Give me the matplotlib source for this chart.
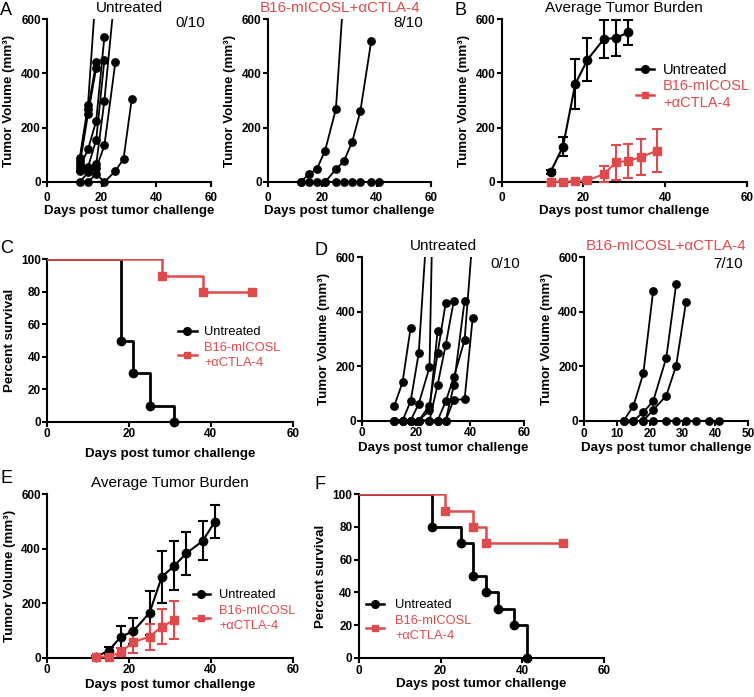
import numpy as np
import matplotlib.pyplot as plt
from matplotlib.lines import Line2D

plt.rcParams['font.family'] = ['Liberation Sans', 'DejaVu Sans']

RED = '#DF4A4C'
W, H = 754, 697

# ---- A: individual mice (first experiment)
a_untr = [
    ([12, 15, 18], [90, 285, 720]),
    ([12, 15, 18], [78, 268, 440]),
    ([12, 15, 18], [65, 250, 420]),
    ([12, 15, 18, 21], [55, 120, 225, 535]),
    ([12, 15, 18, 21], [45, 55, 155, 450]),
    ([12, 15, 18, 21, 25], [40, 48, 65, 300, 715]),
    ([12, 15, 18, 21, 25], [0, 35, 50, 135, 440]),
    ([15, 18, 21, 25, 28, 31], [0, 30, 0, 40, 85, 305]),
]
a_trt = [
    ([12, 15, 18, 21, 25, 28, 31, 34, 38, 41], [0, 0, 0, 0, 0, 0, 0, 0, 0, 0]),
    ([12, 15, 18, 21, 25, 28], [0, 28, 48, 115, 269, 720]),
    ([21, 25, 28, 31, 34, 38], [0, 47, 78, 148, 261, 519]),
]

# ---- B: average tumor burden (first experiment)
b_days_u = [12, 15, 18, 21, 25, 28, 31]
b_mean_u = [38, 130, 360, 450, 526, 530, 551]
b_sem_u = [8, 34, 93, 80, 70, 65, 45]
b_days_t = [12, 15, 18, 21, 25, 28, 31, 34, 38]
b_mean_t = [0, 1, 2, 6, 29, 72, 78, 91, 115]
b_sem_t = [1, 2, 3, 5, 29, 64, 62, 66, 80]

# ---- C: survival (first experiment)
c_t_u = [0, 18, 21, 25, 31]
c_s_u = [100, 50, 30, 10, 0]
c_t_t = [0, 28, 38, 50]
c_s_t = [100, 90, 80, 80]

# ---- D: individual mice (second experiment)
d_untr = [
    ([12, 15, 18], [55, 140, 340]),
    ([12, 15, 18, 21, 25], [0, 0, 70, 247, 860]),
    ([12, 15, 18, 21, 25, 28], [0, 0, 0, 61, 196, 1700]),
    ([12, 15, 18, 21, 25, 28, 31], [0, 0, 0, 0, 55, 247, 433]),
    ([15, 18, 21, 25, 28, 31, 34], [0, 0, 0, 0, 131, 278, 440]),
    ([18, 21, 25, 28], [0, 0, 37, 329]),
    ([21, 25, 28, 31, 34, 38, 41], [0, 0, 0, 70, 159, 296, 680]),
    ([28, 31, 34, 38], [0, 0, 129, 440]),
    ([28, 31, 34, 38, 41], [0, 0, 76, 78, 378]),
]
d_trt = [
    ([12, 15, 18, 21, 25, 28, 31, 34, 38, 41], [0, 0, 0, 0, 0, 0, 0, 0, 0, 0]),
    ([12, 15, 18, 21], [0, 55, 174, 477]),
    ([15, 18, 21, 25, 28], [0, 31, 72, 231, 501]),
    ([18, 21, 25, 28, 31], [0, 39, 92, 202, 435]),
]

# ---- E: average tumor burden (second experiment)
e_days_u = [12, 15, 18, 21, 25, 28, 31, 34, 38, 41]
e_mean_u = [4, 26, 77, 97, 165, 297, 337, 383, 429, 500]
e_sem_u = [3, 12, 40, 48, 80, 95, 90, 80, 72, 61]
e_days_t = [12, 15, 18, 21, 25, 28, 31]
e_mean_t = [2, 4, 20, 57, 77, 114, 138]
e_sem_t = [1, 2, 15, 40, 48, 65, 70]

# ---- F: survival (second experiment)
f_t_u = [0, 18, 25, 28, 31, 34, 38, 41]
f_s_u = [100, 80, 70, 50, 40, 30, 20, 0]
f_t_t = [0, 21, 28, 31, 50]
f_s_t = [100, 90, 80, 70, 70]

TRT_LABEL = 'B16-mICOSL+\u03b1CTLA-4'
LEG_LABEL = 'B16-mICOSL\n+\u03b1CTLA-4'
XLAB = 'Days post tumor challenge'
YLAB = 'Tumor Volume (mm\u00b3)'

fig = plt.figure(figsize=(W / 100, H / 100), dpi=100)


def add_ax(x0, y0, x1, y1):
    return fig.add_axes([x0 / W, 1 - y1 / H, (x1 - x0) / W, (y1 - y0) / H])


def style(ax, xmax, xstep, ymax, ystep, ylabel, tickpad=1, xpad=2, ypad=4):
    ax.set_xlim(0, xmax)
    ax.set_ylim(0, ymax)
    ax.set_xticks(np.arange(0, xmax + 1, xstep))
    ax.set_yticks(np.arange(0, ymax + 1, ystep))
    for s in ['top', 'right']:
        ax.spines[s].set_visible(False)
    for s in ['left', 'bottom']:
        ax.spines[s].set_linewidth(1.5)
    ax.tick_params(width=1.5, length=3.5, labelsize=8.5, pad=1)
    ax.tick_params(axis='x', pad=tickpad)
    for lab in ax.get_xticklabels() + ax.get_yticklabels():
        lab.set_fontweight('bold')
    ax.set_xlabel(XLAB, fontsize=9.6, fontweight='bold', labelpad=xpad)
    ax.set_ylabel(ylabel, fontsize=9.6, fontweight='bold', labelpad=ypad)


def spaghetti(ax, mice, top):
    for days, vals in mice:
        ax.plot(days, vals, color='k', lw=1.3, zorder=3)
        d = [x for x, v in zip(days, vals) if v <= top]
        v = [v for v in vals if v <= top]
        ax.plot(d, v, 'o', color='k', ms=5.3, clip_on=False, zorder=4)


def means(ax, days, m, s, color, marker):
    ax.errorbar(days, m, yerr=s, color=color, marker=marker, ms=6 if marker == 'o' else 5.3,
                lw=1.5, elinewidth=1.5, capsize=3.5, capthick=1.5, clip_on=False, zorder=3)


def survival(ax, t, s, color, marker, lw):
    ax.step(t, s, where='post', color=color, lw=lw, zorder=3)
    ax.plot(t[1:], s[1:], marker, color=color, ms=6 if marker == 'o' else 5.3,
            clip_on=False, zorder=4)


def legend(ax, x, y, fs, hl, pad, spacing):
    handles = [Line2D([], [], color='k', marker='o', ms=5.5, lw=1.8),
               Line2D([], [], color=RED, marker='s', ms=5, lw=1.8)]
    leg = ax.legend(handles, ['Untreated', LEG_LABEL], loc='upper left',
                    bbox_to_anchor=(x / W, 1 - y / H), bbox_transform=fig.transFigure,
                    frameon=False, fontsize=fs, borderpad=0, borderaxespad=0,
                    handlelength=hl, handletextpad=pad, labelspacing=spacing)
    leg.get_texts()[1].set_color(RED)
    leg.get_texts()[1].set_linespacing(1.3)


# A, untreated
ax = add_ax(47, 19, 211, 182)
spaghetti(ax, a_untr, 600)
style(ax, 60, 20, 600, 200, YLAB, tickpad=3.5, xpad=1)
ax.set_title('Untreated', fontsize=11, pad=5)
ax.text(0.965, 1.02, '0/10', transform=ax.transAxes, ha='right', va='top', fontsize=11)

# A, treated
ax = add_ax(268, 19, 431, 182)
spaghetti(ax, a_trt, 600)
style(ax, 60, 20, 600, 200, YLAB, tickpad=3.5, xpad=1)
ax.set_title(TRT_LABEL, fontsize=11, pad=5, color=RED, x=0.44)
ax.text(0.95, 1.02, '8/10', transform=ax.transAxes, ha='right', va='top', fontsize=11)

# B
ax = add_ax(501.7, 19, 746.7, 182)
means(ax, b_days_u, b_mean_u, b_sem_u, 'k', 'o')
means(ax, b_days_t, b_mean_t, b_sem_t, RED, 's')
style(ax, 60, 20, 600, 200, YLAB, tickpad=3.5, xpad=1)
ax.set_title('Average Tumor Burden', fontsize=11, pad=5)
legend(ax, 636, 63, 10.5, 1.25, 0.6, 0.15)

# C
ax = add_ax(47.3, 259.3, 292.7, 422)
survival(ax, c_t_u, c_s_u, 'k', 'o', 2.0)
survival(ax, c_t_t, c_s_t, RED, 's', 1.8)
style(ax, 60, 20, 100, 20, 'Percent survival', tickpad=0.5, xpad=6)
legend(ax, 178, 326, 9.3, 1.45, 0.6, 0.3)

# D, untreated
ax = add_ax(362, 257.3, 524, 420.5)
spaghetti(ax, d_untr, 600)
style(ax, 60, 20, 600, 200, YLAB, tickpad=1.5, xpad=1.5)
ax.set_title('Untreated', fontsize=11, pad=5)
ax.text(0.975, 1.0, '0/10', transform=ax.transAxes, ha='right', va='top', fontsize=11)

# D, treated
ax = add_ax(584.3, 257.3, 748.3, 420.7)
spaghetti(ax, d_trt, 600)
style(ax, 50, 10, 600, 200, YLAB, tickpad=1.5, xpad=1.5)
ax.set_title(TRT_LABEL, fontsize=11, pad=5, color=RED)
ax.text(0.968, 1.0, '7/10', transform=ax.transAxes, ha='right', va='top', fontsize=11)

# E
ax = add_ax(47.3, 494.3, 292.7, 657.7)
means(ax, e_days_u, e_mean_u, e_sem_u, 'k', 'o')
means(ax, e_days_t, e_mean_t, e_sem_t, RED, 's')
style(ax, 60, 20, 600, 200, YLAB, tickpad=1, xpad=2.5)
ax.set_title('Average Tumor Burden', fontsize=11, pad=5)
legend(ax, 193, 589, 9.3, 1.3, 0.75, 0.3)

# F
ax = add_ax(358.7, 494.3, 604.3, 657.7)
survival(ax, f_t_u, f_s_u, 'k', 'o', 2.0)
survival(ax, f_t_t, f_s_t, RED, 's', 1.8)
style(ax, 60, 20, 100, 20, 'Percent survival', tickpad=1.5, xpad=1)
legend(ax, 366, 599, 9.3, 1.4, 0.85, 0.3)

# panel letters
for letter, x, y in [('A', 0, 15), ('B', 455, 15), ('C', 0, 253),
                     ('D', 315, 255), ('E', 0, 483), ('F', 315, 489)]:
    fig.text(x / W, 1 - y / H, letter, fontsize=13, va='baseline', ha='left')

fig.savefig('out.png', dpi=100)
